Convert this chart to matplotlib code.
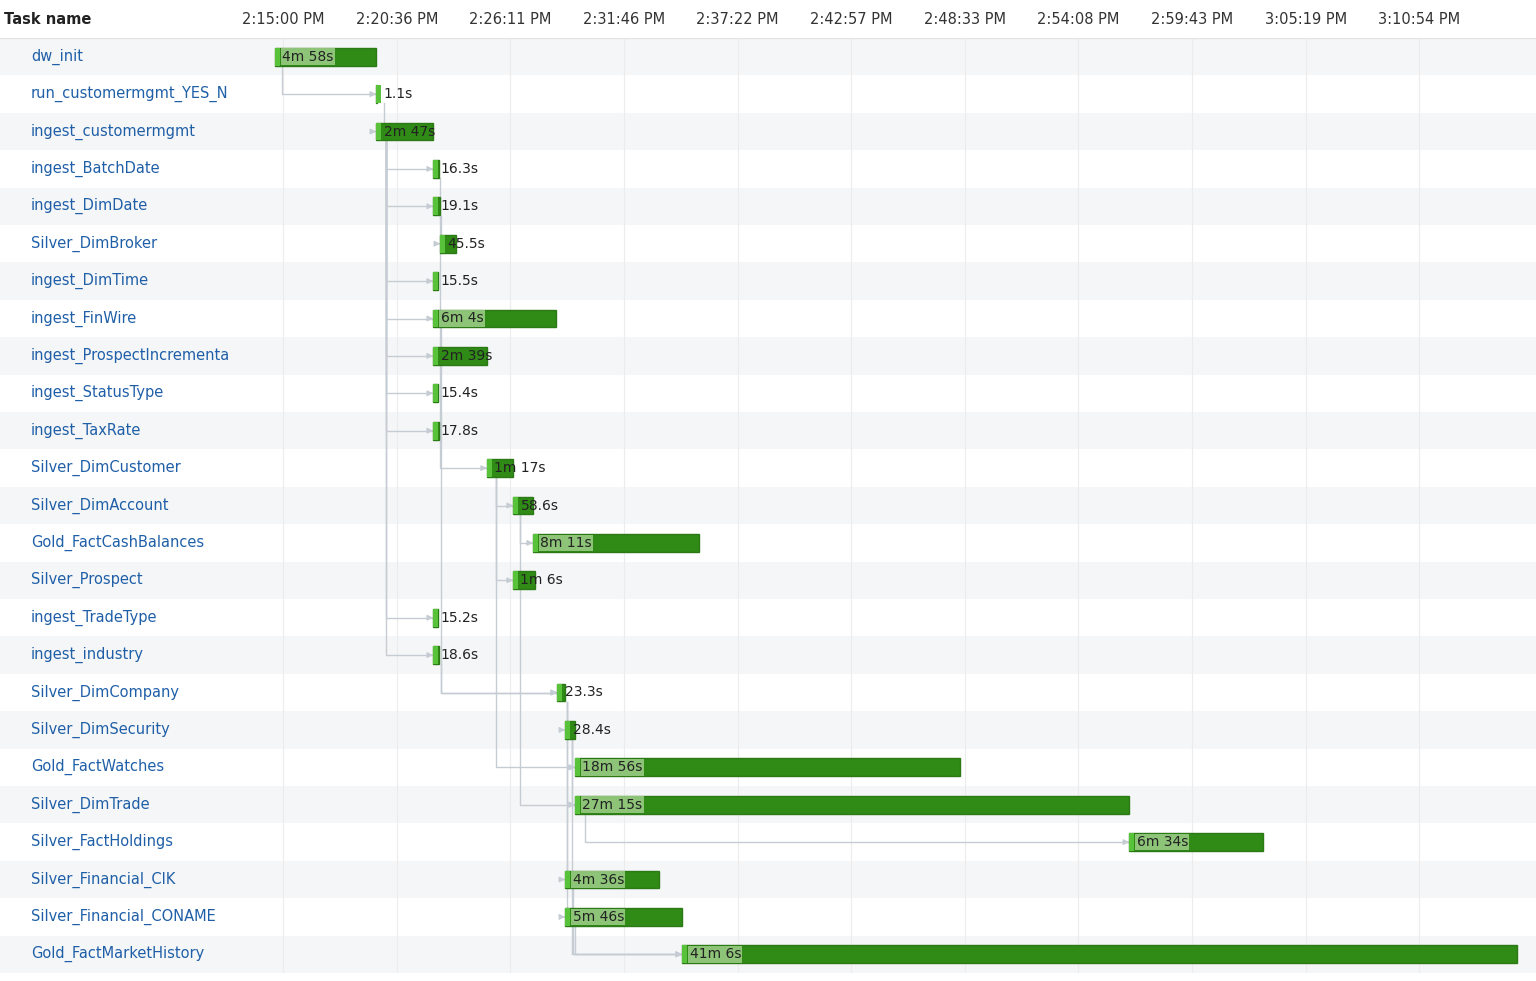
import matplotlib
matplotlib.use("Agg")
import matplotlib.pyplot as plt
from matplotlib.patches import Rectangle

tasks = ["dw_init","run_customermgmt_YES_N","ingest_customermgmt","ingest_BatchDate","ingest_DimDate",
 "Silver_DimBroker","ingest_DimTime","ingest_FinWire","ingest_ProspectIncrementa","ingest_StatusType",
 "ingest_TaxRate","Silver_DimCustomer","Silver_DimAccount","Gold_FactCashBalances","Silver_Prospect",
 "ingest_TradeType","ingest_industry","Silver_DimCompany","Silver_DimSecurity","Gold_FactWatches",
 "Silver_DimTrade","Silver_FactHoldings","Silver_Financial_CIK","Silver_Financial_CONAME","Gold_FactMarketHistory"]
starts = [-24,275,275,443,443,464,443,443,443,443,443,602,679,738,679,443,443,809,833,862,862,2498,833,833,1178]
durations = [298,1.1,167,16.3,19.1,45.5,15.5,364,159,15.4,17.8,77,58.6,491,66,15.2,18.6,23.3,28.4,1136,1635,394,276,346,2466]
dur_labels = ["4m 58s","1.1s","2m 47s","16.3s","19.1s","45.5s","15.5s","6m 4s","2m 39s","15.4s","17.8s",
 "1m 17s","58.6s","8m 11s","1m 6s","15.2s","18.6s","23.3s","28.4s","18m 56s","27m 15s","6m 34s",
 "4m 36s","5m 46s","41m 6s"]
tick_secs = [0,336,671,1006,1342,1677,2013,2348,2683,3019,3354]
tick_labels = ["2:15:00 PM","2:20:36 PM","2:26:11 PM","2:31:46 PM","2:37:22 PM","2:42:57 PM",
 "2:48:33 PM","2:54:08 PM","2:59:43 PM","3:05:19 PM","3:10:54 PM"]
edges = [(0,1),(1,2),(2,3),(2,4),(2,6),(2,7),(2,8),(2,9),(2,10),(2,15),(2,16),(4,5),(3,11),(11,12),
 (12,13),(11,14),(7,17),(16,17),(17,18),(17,22),(17,23),(18,19),(11,19),(18,20),(12,20),(20,21),
 (22,24),(23,24),(18,24)]

fig = plt.figure(figsize=(15.36,9.81), dpi=100)
ax = fig.add_axes([0, 8/981, 1, 935/981])
n = len(tasks)
ax.set_xlim(-835.6, 3699)
ax.set_ylim(n-0.5, -0.5)
ax.axis("off")
for i in range(n):
    if i % 2 == 0:
        ax.add_patch(Rectangle((-835.6, i-0.5), 4600, 1, color="#f5f6f7", zorder=0, lw=0))
for t in tick_secs:
    ax.axvline(t, color="#ececec", lw=0.8, zorder=0.5)
ax.axhline(-0.5, color="#e3e3e3", lw=1)
for t, l in zip(tick_secs, tick_labels):
    fig.text((t+835.6)/4534.6, 1-19/981, l, ha="center", va="center", fontsize=10.5, color="#333")
fig.text(4/1536, 1-19/981, "Task name", ha="left", va="center", fontsize=10.5, color="#222", weight="bold")
for i, name in enumerate(tasks):
    ax.text(31/1536, i, name, transform=ax.get_yaxis_transform(), ha="left", va="center",
            fontsize=10.5, color="#1f5fa8", clip_on=True)
for p, c in edges:
    vx = starts[p] + 20 + 4*(p % 3)
    ax.plot([vx, vx, starts[c]], [p+0.25, c, c], color="#c5ccd3", lw=1, zorder=1)
    ax.annotate("", xy=(starts[c], c), xytext=(starts[c]-14, c),
                arrowprops=dict(arrowstyle="-|>", color="#c5ccd3", lw=1, mutation_scale=8), zorder=1)
for i in range(n):
    ax.barh(i, durations[i], left=starts[i], height=0.48, color="#2f8a16", edgecolor="#2b7a16", zorder=2)
    ax.add_patch(Rectangle((starts[i], i-0.24), 14, 0.48, color="#58c23a", zorder=3, lw=0))
    ax.text(starts[i]+22, i, dur_labels[i], ha="left", va="center", fontsize=10, color="#222", zorder=4,
            bbox=dict(boxstyle="square,pad=0.1", fc="#9fcf8a", ec="none", alpha=0.85 if durations[i] > 200 else 0))
fig.savefig("out.png", dpi=100, facecolor="white")
